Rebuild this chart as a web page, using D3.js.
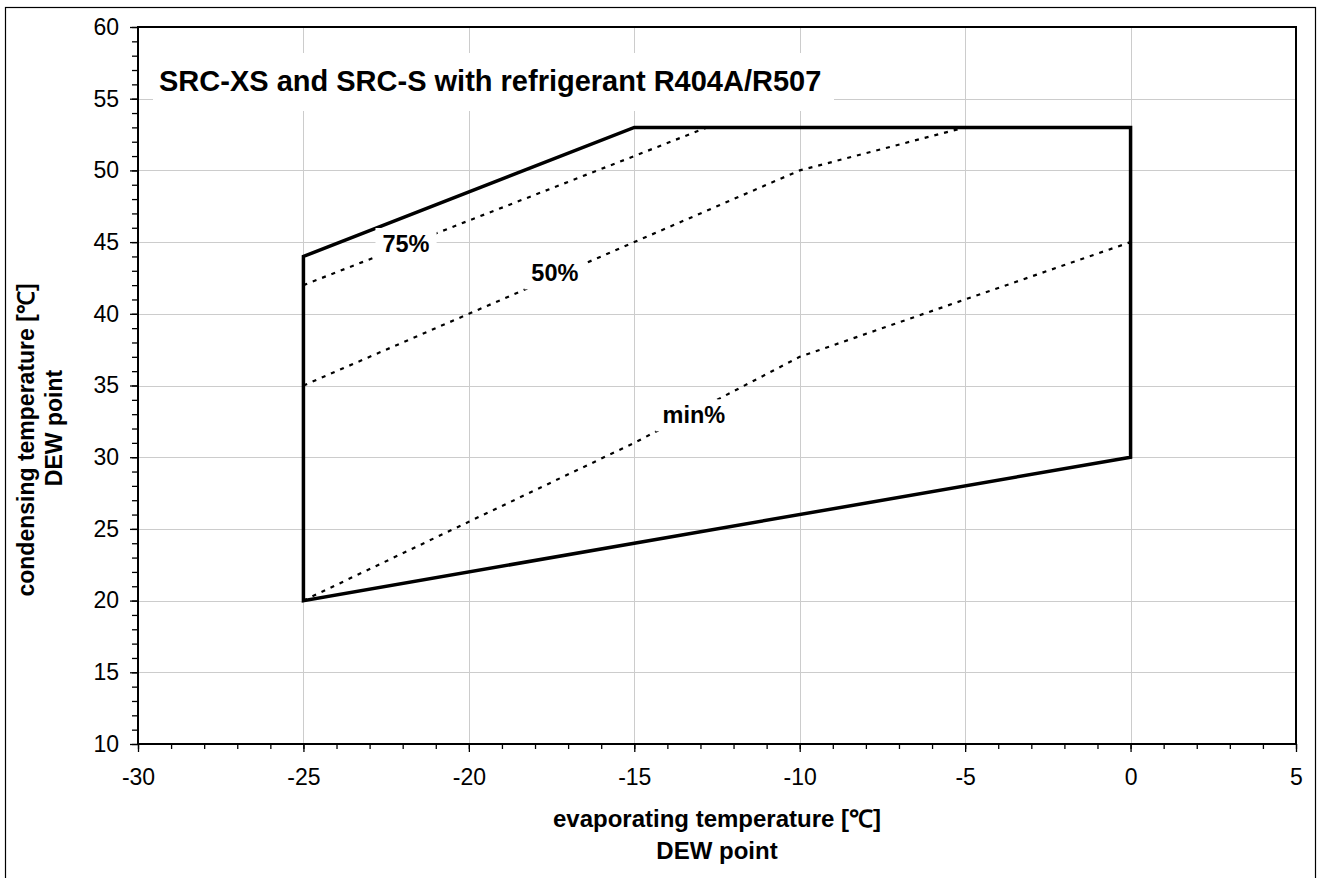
<!DOCTYPE html>
<html>
<head>
<meta charset="utf-8">
<script src="https://cdn.jsdelivr.net/npm/d3@7"></script>
<style>
	body { margin: 0; background: #fff; }
	svg { display: block; font-family: "Liberation Sans", Arial, sans-serif; }
</style>
</head>
<body>
<div id="chart"></div>
<script>
// DATA
// operating envelope (closed polygon)
const envelopeX = [-25, -25, -15, 0, 0, -25];
const envelopeY = [20, 44, 53, 53, 30, 20];
// capacity lines
const line75X = [-25, -20, -15, -12.8];
const line75Y = [42, 46.5, 51, 53];
const line50X = [-25, -20, -15, -10, -5];
const line50Y = [35, 40, 45, 50, 53];
const lineMinX = [-25, -20, -15, -10, -5, 0];
const lineMinY = [20, 25.5, 31, 37, 41, 45];
// labels on the lines (data coordinates)
const labelText = ["75%", "50%", "min%"];
const labelX = [-21.9, -17.4, -13.2];
const labelY = [44.9, 42.85, 32.95];
// axes
const xTicks = [-30, -25, -20, -15, -10, -5, 0, 5];
const yTicks = [10, 15, 20, 25, 30, 35, 40, 45, 50, 55, 60];
const title = "SRC-XS and SRC-S with refrigerant R404A/R507";
const xTitle = ["evaporating temperature [\u2103]", "DEW point"];
const yTitle = ["condensing temperature [\u2103]", "DEW point"];


// SVG DIMENSIONS
const width = 1321;
const height = 878;
const margin = {top: 27, right: 25, bottom: 134, left: 138};
const font = "'Liberation Sans', Arial, sans-serif";
const svg = d3.select("#chart")
	.append("svg")
	.attr("width", width)
	.attr("height", height);

// outer frame
svg.append("rect")
	.attr("x", 5.5).attr("y", 7.5)
	.attr("width", 1310).attr("height", 900)
	.attr("fill", "none")
	.attr("stroke", "#000")
	.attr("stroke-width", 1.2);

// SCALES
const x = d3.scaleLinear().domain([-30, 5]).range([margin.left, width - margin.right]);
const y = d3.scaleLinear().domain([10, 60]).range([height - margin.bottom, margin.top]);
const zip = (xs, ys) => xs.map((v, i) => [v, ys[i]]);
const line = d3.line().x(d => x(d[0])).y(d => y(d[1]));


// GRID
const grid = svg.append("g").attr("stroke", "#cccccc").attr("stroke-width", 1);
grid.selectAll("line.v")
	.data(xTicks.slice(1, -1))
	.enter().append("line")
		.attr("x1", d => Math.round(x(d)) + 0.5).attr("x2", d => Math.round(x(d)) + 0.5)
		.attr("y1", y(60)).attr("y2", y(10));
grid.selectAll("line.h")
	.data(yTicks.slice(1, -1))
	.enter().append("line")
		.attr("y1", d => Math.round(y(d)) + 0.5).attr("y2", d => Math.round(y(d)) + 0.5)
		.attr("x1", x(-30)).attr("x2", x(5));

// title box (covers grid)
svg.append("rect")
	.attr("x", 153).attr("y", 53)
	.attr("width", 681).attr("height", 58)
	.attr("fill", "#fff");
svg.append("text")
	.attr("x", 159).attr("y", 91)
	.attr("font-size", 29)
	.attr("font-weight", "bold")
	.text(title);


// DRAW
// capacity lines (dotted)
[[line75X, line75Y], [line50X, line50Y], [lineMinX, lineMinY]].forEach(([xs, ys]) => {
	svg.append("path")
		.attr("d", line(zip(xs, ys)))
		.attr("fill", "none")
		.attr("stroke", "#000")
		.attr("stroke-width", 2.2)
		.attr("stroke-dasharray", "4,6");
});
// envelope
svg.append("path")
	.attr("d", line(zip(envelopeX, envelopeY)) + "Z")
	.attr("fill", "none")
	.attr("stroke", "#000")
	.attr("stroke-width", 3.5)
	.attr("stroke-linejoin", "miter");

// labels with white boxes
labelText.forEach((t, i) => {
	const g = svg.append("g");
	const box = g.append("rect").attr("fill", "#fff");
	const txt = g.append("text")
		.attr("x", x(labelX[i]))
		.attr("y", y(labelY[i]))
		.attr("dy", "0.36em")
		.attr("text-anchor", "middle")
		.attr("font-size", 23.5)
		.attr("font-weight", "bold")
		.text(t);
	const bb = txt.node().getBBox();
	box.attr("x", bb.x - 7).attr("y", bb.y - 3)
		.attr("width", bb.width + 14).attr("height", bb.height + 6);
});

// plot frame
svg.append("rect")
	.attr("x", x(-30)).attr("y", y(60))
	.attr("width", x(5) - x(-30)).attr("height", y(10) - y(60))
	.attr("fill", "none")
	.attr("stroke", "#000")
	.attr("stroke-width", 2);


// AXES
const minorX = d3.range(-30, 5.01, 1);
const minorY = d3.range(10, 60.01, 1);
const fmt = d => String(d);
// x minor
svg.append("g")
	.attr("transform", `translate(0,${y(10)})`)
	.call(d3.axisBottom(x).tickValues(minorX).tickSize(5).tickFormat(""))
	.call(g => g.select(".domain").remove());
// x major
svg.append("g")
	.attr("transform", `translate(0,${y(10)})`)
	.call(d3.axisBottom(x).tickValues(xTicks).tickSize(8).tickPadding(17).tickFormat(fmt))
	.attr("font-family", font)
	.attr("font-size", 23)
	.call(g => g.select(".domain").remove())
	.call(g => g.selectAll("text").attr("fill", "#000"));
// y minor
svg.append("g")
	.attr("transform", `translate(${x(-30)},0)`)
	.call(d3.axisLeft(y).tickValues(minorY).tickSize(6).tickFormat(""))
	.call(g => g.select(".domain").remove());
// y major
svg.append("g")
	.attr("transform", `translate(${x(-30)},0)`)
	.call(d3.axisLeft(y).tickValues(yTicks).tickSize(8).tickPadding(11).tickFormat(fmt))
	.attr("font-family", font)
	.attr("font-size", 23)
	.call(g => g.select(".domain").remove())
	.call(g => g.selectAll("text").attr("fill", "#000"));
svg.selectAll(".tick line").attr("stroke", "#000").attr("stroke-width", 1.3);


// AXIS TITLES
svg.append("text")
	.attr("text-anchor", "middle")
	.attr("font-size", 24)
	.attr("font-weight", "bold")
	.selectAll("tspan")
	.data(xTitle)
	.enter().append("tspan")
		.attr("x", (x(-30) + x(5)) / 2)
		.attr("y", (d, i) => 827 + i * 32)
		.text(d => d);

const yT = svg.append("g")
	.attr("transform", "translate(0,438) rotate(-90)");
yT.append("text")
	.attr("text-anchor", "middle")
	.attr("font-size", 23)
	.attr("font-weight", "bold")
	.selectAll("tspan")
	.data(yTitle)
	.enter().append("tspan")
		.attr("x", (d, i) => i === 0 ? -2 : 10)
		.attr("y", (d, i) => 33.5 + i * 28)
		.text(d => d);
</script>
</body>
</html>
